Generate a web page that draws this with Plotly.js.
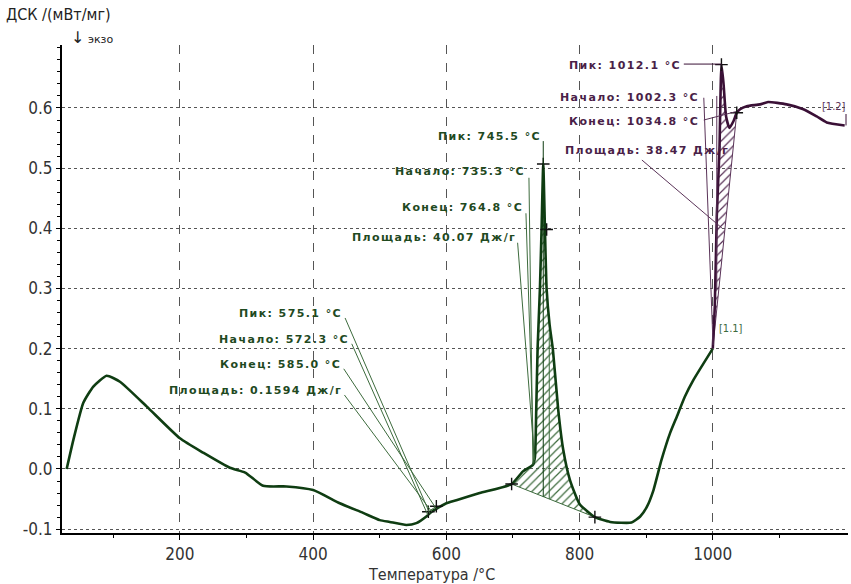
<!DOCTYPE html>
<html>
<head>
<meta charset="utf-8">
<script src="https://cdn.plot.ly/plotly-3.0.1.min.js"></script>
<style>
html,body{margin:0;padding:0;background:#fff;}
#chart{width:851px;height:584px;}
</style>
</head>
<body>
<div id="chart"></div>
<script>
// ---- data ----
const temperature = [30, 40, 55, 70, 90, 110, 150, 200, 235, 275, 298, 325, 360, 400, 440, 475, 500, 515, 540, 555, 570, 578, 590, 600, 615, 650, 698, 715, 730, 733, 735, 737, 740.5, 743, 745.5, 748, 750.5, 755, 760, 768, 775.5, 785.5, 800, 823, 846, 878, 891, 901, 911, 923, 936, 946, 958, 971, 1000, 1003, 1006, 1010, 1013, 1016, 1020, 1025, 1031, 1036, 1041, 1051, 1071, 1083, 1111, 1136, 1156, 1171, 1198];
const dsc = [0.0, 0.048, 0.11, 0.137, 0.155, 0.145, 0.104, 0.051, 0.027, 0.002, -0.006, -0.028, -0.029, -0.035, -0.057, -0.073, -0.085, -0.088, -0.093, -0.09, -0.079, -0.071, -0.063, -0.057, -0.052, -0.04, -0.025, -0.004, 0.007, 0.02, 0.1, 0.2, 0.3, 0.4, 0.507, 0.4, 0.3, 0.24, 0.198, 0.098, 0.032, -0.018, -0.058, -0.08, -0.088, -0.089, -0.079, -0.063, -0.035, 0.015, 0.06, 0.087, 0.12, 0.148, 0.2, 0.27, 0.42, 0.53, 0.672, 0.642, 0.586, 0.567, 0.578, 0.592, 0.598, 0.603, 0.606, 0.610, 0.606, 0.598, 0.586, 0.576, 0.571];
const segmentSplit = 1000; // colour change of the curve

// integration baselines of the peaks
const base2T = [698, 823];
const base2V = [-0.025, -0.08];
const base3T = [1000, 1036];
const base3V = [0.2, 0.592];
const base1T = [573, 585];
const base1V = [-0.071, -0.062];

// characteristic points ("+")
const markT = [573, 585, 698, 823, 745.5, 750.6, 1013, 1036];
const markV = [-0.071, -0.062, -0.025, -0.08, 0.507, 0.398, 0.672, 0.592];

// peak evaluations
const peak1Text = ['Пик: 575.1 °C', 'Начало: 572.3 °C', 'Конец: 585.0 °C', 'Площадь: 0.1594 Дж/г'];
const peak2Text = ['Пик: 745.5 °C', 'Начало: 735.3 °C', 'Конец: 764.8 °C', 'Площадь: 40.07 Дж/г'];
const peak3Text = ['Пик: 1012.1 °C', 'Начало: 1002.3 °C', 'Конец: 1034.8 °C', 'Площадь: 38.47 Дж/г'];

const xTicks = [200, 400, 600, 800, 1000];
const xMinor = [100, 300, 500, 700, 900, 1100];
const yTicks = [-0.1, 0.0, 0.1, 0.2, 0.3, 0.4, 0.5, 0.6];
const yTickText = ['-0.1', '0.0', '0.1', '0.2', '0.3', '0.4', '0.5', '0.6'];

const xTitle = 'Температура /°C';
const yTitle = 'ДСК /(мВт/мг)';
const exoText = 'экзо';

// ---- styling ----
const GREEN = '#0f3d12';
const GREEN_T = '#1f4a1f';
const GREEN_L = '#3d6b3d';
const PURPLE = '#3a1036';
const PURPLE_T = '#4a1f48';
const PURPLE_L = '#5a3358';
const NARROW = 'Liberation Sans Narrow, DejaVu Sans Condensed, sans-serif';

function pick(lo, hi){
  const t=[], v=[];
  temperature.forEach((x,i)=>{ if(x>=lo && x<=hi){ t.push(x); v.push(dsc[i]); } });
  return {t, v};
}
function baseAt(bt, bv, x){ return bv[0] + (bv[1]-bv[0])*(x-bt[0])/(bt[1]-bt[0]); }
function curveAt(x){
  for(let i=1;i<temperature.length;i++){
    if(x<=temperature[i]){ const a=temperature[i-1], b=temperature[i]; return dsc[i-1]+(dsc[i]-dsc[i-1])*(x-a)/(b-a); }
  }
  return dsc[dsc.length-1];
}

const green = pick(temperature[0], segmentSplit);
const purple = pick(segmentSplit, temperature[temperature.length-1]);
const seg2 = pick(base2T[0], base2T[1]);
const seg3 = pick(base3T[0], base3T[1]);

const hatch = (c)=>({shape:'/', fgcolor:c, bgcolor:'rgba(0,0,0,0)', size:6, solidity:0.2});
const traces = [
  {x: base2T, y: base2V, mode:'lines', line:{color:GREEN_L, width:1}, hoverinfo:'skip'},
  {x: seg2.t, y: seg2.v, mode:'lines', line:{width:0, shape:'spline', smoothing:0.5}, fill:'tonexty', fillcolor:'rgba(0,0,0,0)',
   fillpattern:hatch(GREEN_L), hoverinfo:'skip'},
  {x: base3T, y: base3V, mode:'lines', line:{color:PURPLE_L, width:1}, hoverinfo:'skip'},
  {x: seg3.t, y: seg3.v, mode:'lines', line:{width:0, shape:'spline', smoothing:0.5}, fill:'tonexty', fillcolor:'rgba(0,0,0,0)',
   fillpattern:hatch(PURPLE_L), hoverinfo:'skip'},
  {x: base1T, y: base1V, mode:'lines', line:{color:GREEN_L, width:1}, hoverinfo:'skip'},
  {x: green.t, y: green.v, mode:'lines', line:{color:GREEN, width:2.6, shape:'spline', smoothing:0.5}, name:'DSC'},
  {x: purple.t, y: purple.v, mode:'lines', line:{color:PURPLE, width:2.6, shape:'spline', smoothing:0.5}, name:'DSC'},
  {x: markT, y: markV, mode:'markers', marker:{symbol:'cross-thin', size:9, line:{color:'#111', width:1.4}}, hoverinfo:'skip'}
];

// ---- labels & leaders ----
const annFont = (c)=>({family:'DejaVu Sans', size:11, weight:'bold', color:c});
function spaced(s){ return '<span style="letter-spacing:1.4px">'+s+'</span>'; }
const annotations = [];
const shapes = [];
function label(text, x, y, color){
  annotations.push({text: spaced(text), x, y, xref:'x', yref:'y', xanchor:'right', yanchor:'middle', showarrow:false, font:annFont(color)});
}
function leader(x0,y0,x1,y1,color){
  shapes.push({type:'line', xref:'x', yref:'y', x0, y0, x1, y1, line:{color, width:1}});
}

// peak 1
const p1Lab = [[447, 0.259],[457, 0.216],[445, 0.1745],[446, 0.131]];
const p1Tgt = [[575.1, curveAt(575.1)],[572.3, curveAt(572.3)],[585.0, curveAt(585.0)],[578, curveAt(578)]];
peak1Text.forEach((t,i)=>{
  label(t, p1Lab[i][0], p1Lab[i][1], GREEN_T);
  leader(p1Lab[i][0]+1, p1Lab[i][1]-0.008, p1Tgt[i][0], p1Tgt[i][1], GREEN_L);
});

// peak 2
const p2Lab = [[745, 0.552],[721, 0.494],[718, 0.434],[708, 0.384]];
peak2Text.forEach((t,i)=> label(t, p2Lab[i][0], p2Lab[i][1], GREEN_T));
leader(745.5, 0.545, 745.5, curveAt(745.5), GREEN);
leader(724, 0.484, 730, 0.007, GREEN_L);
leader(719.5, 0.425, 731.5, 0.01, GREEN_L);
leader(707, 0.376, 732.5, 0.015, GREEN_L);
leader(745.5, curveAt(745.5), 745.5, baseAt(base2T, base2V, 745.5), GREEN);
leader(754.5, curveAt(754.5)-0.02, 754.5, baseAt(base2T, base2V, 754.5), GREEN_L);

// peak 3
const p3Lab = [[955, 0.670],[982, 0.618],[982, 0.577],[1027, 0.530]];
peak3Text.forEach((t,i)=> label(t, p3Lab[i][0], p3Lab[i][1], PURPLE_T));
leader(956.5, 0.673, 1013.5, 0.673, PURPLE);
leader(986.5, 0.617, 1000.4, 0.206, PURPLE_L);
leader(986.5, 0.580, 1034.8, 0.594, PURPLE_L);
leader(893.6, 0.5135, 1013.7, 0.4005, PURPLE_L);
leader(1006, 0.62, 1006, 0.30, PURPLE_L);

// range markers
annotations.push({text:'[1.1]', x:1006.5, y:0.234, xref:'x', yref:'y', xanchor:'left', yanchor:'middle', showarrow:false, font:{family:NARROW, size:11, color:'#3d6b3d'}});
annotations.push({text:'[1.2]', x:1203, y:0.603, xref:'x', yref:'y', xanchor:'right', yanchor:'middle', showarrow:false, font:{family:NARROW, size:11, color:PURPLE_L}});
leader(1200, dsc[dsc.length-1], 1200, 0.59, PURPLE);

// axis titles
annotations.push({text: yTitle, xref:'paper', yref:'paper', x:-0.074, y:1.062, xanchor:'left', yanchor:'middle', showarrow:false,
  font:{family:NARROW, size:16, color:'#222'}});
annotations.push({text: '<span style="font-size:16px">↓</span> ' + exoText, xref:'paper', yref:'paper', x:0.0085, y:1.016, xanchor:'left', yanchor:'middle', showarrow:false,
  font:{family:'DejaVu Sans', size:11, color:'#222'}});
annotations.push({text: xTitle, xref:'paper', yref:'paper', x:0.4695, y:-0.086, xanchor:'center', yanchor:'middle', showarrow:false,
  font:{family:NARROW, size:16, color:'#333'}});

const layout = {
  width: 851, height: 584,
  margin: {l:62, r:3, t:45, b:51},
  paper_bgcolor:'#ffffff', plot_bgcolor:'#ffffff',
  showlegend:false,
  xaxis: {
    range:[23, 1203], tickmode:'array', tickvals:xTicks, ticks:'outside', ticklen:5, tickwidth:1, tickcolor:'#000',
    showline:true, linecolor:'#000', linewidth:2, zeroline:false,
    showgrid:true, gridcolor:'#555', griddash:'dash', gridwidth:1,
    tickfont:{family:NARROW, size:17, color:'#333'},
    minor:{tickmode:'array', tickvals:xMinor, ticks:'outside', ticklen:3, tickcolor:'#000', showgrid:false}
  },
  yaxis: {
    range:[-0.1064, 0.7047], tickmode:'array', tickvals:yTicks, ticktext:yTickText, ticks:'outside', ticklen:4, tickwidth:1, tickcolor:'#000',
    showline:true, linecolor:'#000', linewidth:2, zeroline:false,
    showgrid:true, gridcolor:'#555', griddash:'dot', gridwidth:1,
    tickfont:{family:NARROW, size:17, color:'#333'},
    minor:{dtick:0.02, tick0:0, ticks:'outside', ticklen:3, tickcolor:'#000', showgrid:false}
  },
  annotations, shapes
};

Plotly.newPlot('chart', traces, layout, {staticPlot:true, displayModeBar:false});
</script>
</body>
</html>
